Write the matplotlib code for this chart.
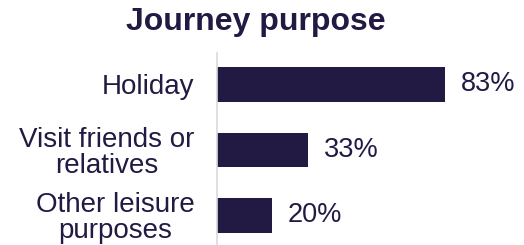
import matplotlib
matplotlib.use("Agg")
import matplotlib.pyplot as plt

plt.rcParams['font.family'] = ['Liberation Sans', 'DejaVu Sans']

categories = ['Holiday', 'Visit friends or\nrelatives', 'Other leisure\npurposes']
values = [83, 33, 20]
labels = ['83%', '33%', '20%']

navy = '#231a44'

fig = plt.figure(figsize=(5.24, 2.45), dpi=100)
ax = fig.add_axes([0.414, 0.0, 0.586, 0.784])
y = range(len(categories))
ax.barh(y, values, height=0.53, color=navy)
for yi, v, lab in zip(y, values, labels):
    ax.text(v + 5.8, yi, lab, va='center', ha='left', fontsize=19.5, color=navy)

ax.set_xlim(0, 111.8)
ax.set_ylim(2.45, -0.48)
ax.set_yticks(list(y))
ax.set_yticklabels(categories, fontsize=20, color=navy, linespacing=1.0)
ax.tick_params(axis='y', length=0, pad=16)
ax.set_xticks([])
for s in ['top', 'right', 'bottom']:
    ax.spines[s].set_visible(False)
ax.spines['left'].set_color('#d9d9d9')
ax.spines['left'].set_linewidth(1.2)
for t in ax.get_yticklabels():
    t.set_multialignment('center')

fig.text(0.489, 0.91, 'Journey purpose', ha='center', va='center',
         fontsize=23, fontweight='bold', color=navy)

fig.savefig('out.png', dpi=100)
